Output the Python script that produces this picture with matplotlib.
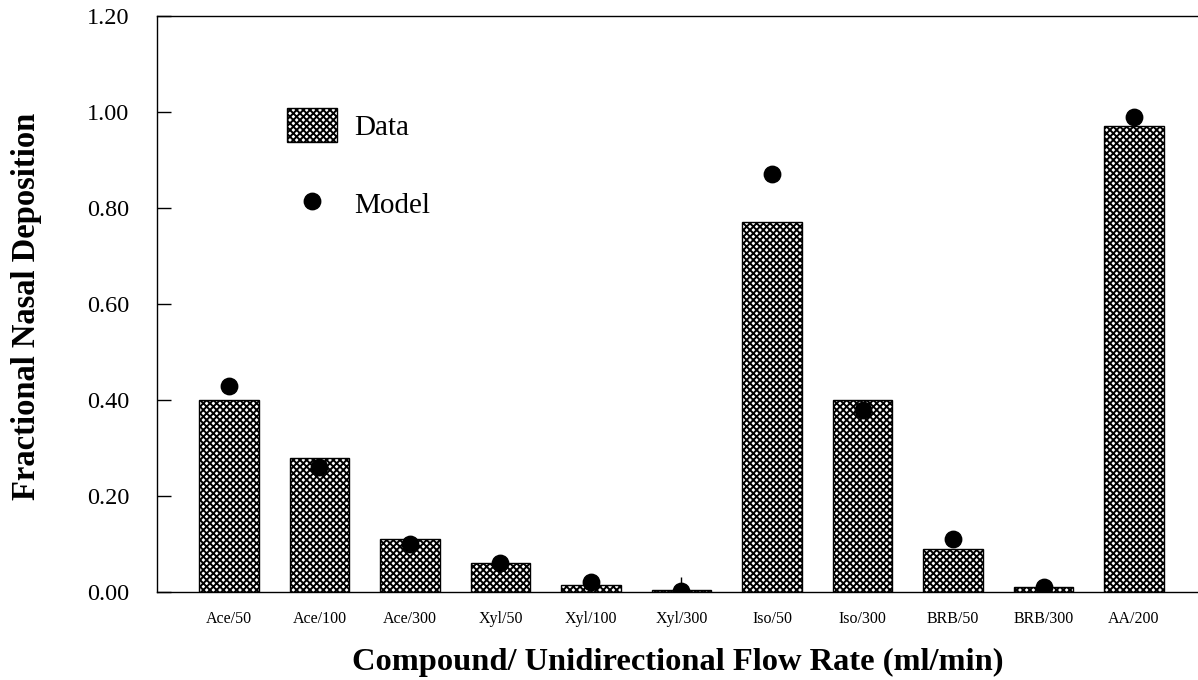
import matplotlib
matplotlib.use("Agg")
import matplotlib.pyplot as plt
import numpy as np

categories = ["Ace/50", "Ace/100", "Ace/300", "Xyl/50", "Xyl/100", "Xyl/300",
              "Iso/50", "Iso/300", "BRB/50", "BRB/300", "AA/200"]
data_vals = [0.40, 0.28, 0.11, 0.06, 0.015, 0.005, 0.77, 0.40, 0.09, 0.01, 0.97]
model_vals = [0.43, 0.26, 0.10, 0.06, 0.02, 0.003, 0.87, 0.38, 0.11, 0.01, 0.99]
model_err_up = [0, 0, 0, 0, 0, 0.028, 0, 0, 0, 0.018, 0]
yticks = [0.0, 0.2, 0.4, 0.6, 0.8, 1.0, 1.2]

plt.rcParams["font.family"] = ["Liberation Serif", "DejaVu Serif"]
plt.rcParams["hatch.linewidth"] = 1.4

fig = plt.figure(figsize=(11.98, 6.8), dpi=100)
ax = fig.add_axes([0.131, 0.1294, 0.869, 0.847])

x = np.arange(len(categories))
bars = ax.bar(x, data_vals, width=0.66, color="white", edgecolor="black",
              hatch="xxxxx", linewidth=1.0, label="Data")
ax.errorbar(x, model_vals, yerr=[np.zeros(len(x)), model_err_up], fmt="none",
            ecolor="black", elinewidth=1.0, capsize=0)
pts = ax.scatter(x, model_vals, s=140, color="black", zorder=5, label="Model")

ax.set_xlim(-0.796, 10.707)
ax.set_ylim(0, 1.2)
ax.set_yticks(yticks)
ax.set_yticklabels([f"{v:.2f}" for v in yticks], fontsize=17.5)
ax.tick_params(axis="y", direction="in", length=10, width=1, pad=20)
ax.set_xticks(x)
ax.set_xticklabels(categories, fontsize=11.5)
ax.tick_params(axis="x", length=0, pad=14)
ax.spines["right"].set_visible(False)
for s in ["left", "top", "bottom"]:
    ax.spines[s].set_linewidth(1.0)

ax.set_ylabel("Fractional Nasal Deposition", fontsize=23.5, fontweight="bold")
ax.yaxis.set_label_coords(-0.1105, 0.496)
ax.set_xlabel("Compound/ Unidirectional Flow Rate (ml/min)", fontsize=23.4,
              fontweight="bold", labelpad=15)

ax.legend(handles=[bars, pts], labels=["Data", "Model"], frameon=False,
          fontsize=21, loc="upper left", bbox_to_anchor=(287 / 1198, 1 - 108 / 680),
          bbox_transform=fig.transFigure, borderpad=0, borderaxespad=0,
          handlelength=1.7, handleheight=1.4, handletextpad=0.6, labelspacing=1.55)

fig.savefig("out.png", dpi=100)
